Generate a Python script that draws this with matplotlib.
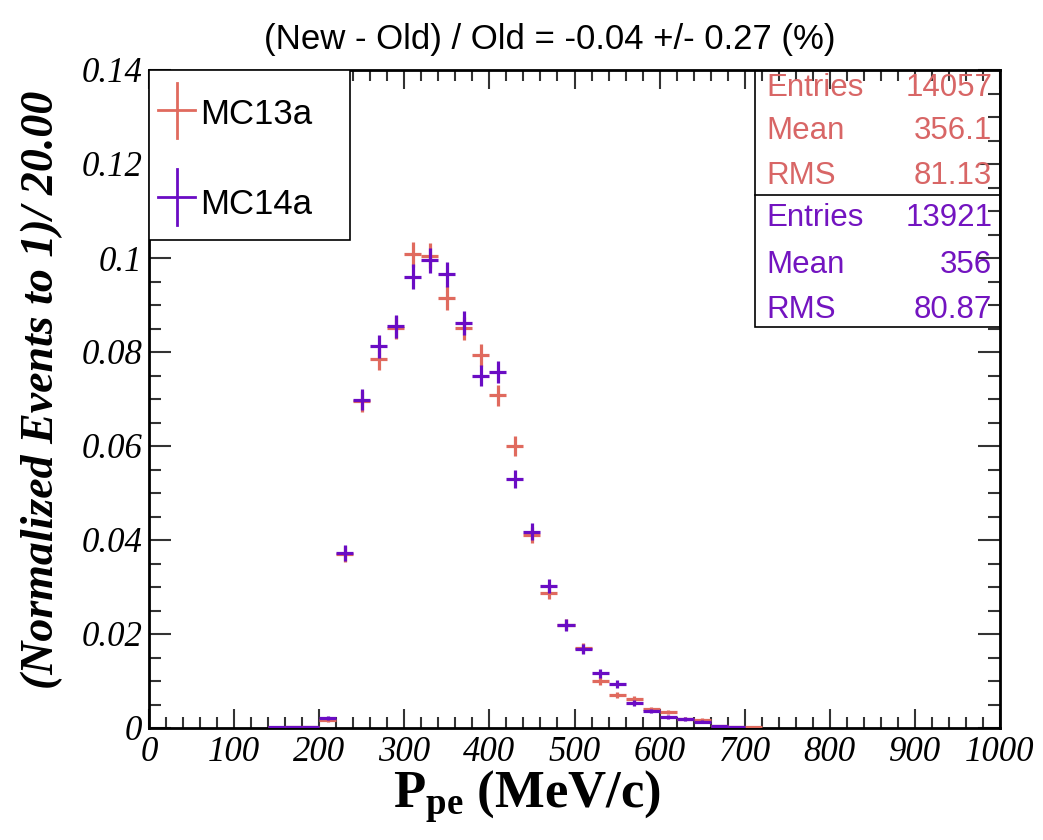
import numpy as np
import matplotlib
matplotlib.use('Agg')
import matplotlib.pyplot as plt
from matplotlib.patches import Rectangle
from matplotlib.ticker import MultipleLocator, FormatStrFormatter

plt.rcParams['mathtext.fontset'] = 'custom'
plt.rcParams['mathtext.rm'] = 'Liberation Serif'
plt.rcParams['mathtext.bf'] = 'Liberation Serif:bold'

# centros de bin (ancho 20 MeV/c)
centros = [150, 170, 190, 210, 230, 250, 270, 290, 310, 330, 350, 370, 390, 410, 430,
           450, 470, 490, 510, 530, 550, 570, 590, 610, 630, 650, 670, 690, 710]
ancho_bin = 20

mc13a = [0.0001, 0.0002, 0.0002, 0.0016, 0.0370, 0.0695, 0.0785, 0.0852, 0.1008, 0.1005,
         0.0915, 0.0850, 0.0793, 0.0708, 0.0600, 0.0410, 0.0288, 0.0220, 0.0170, 0.0100,
         0.0070, 0.0062, 0.0040, 0.0034, 0.0020, 0.0017, 0.0005, 0.0003, 0.0002]
mc14a = [0.0003, 0.0002, 0.0003, 0.0021, 0.0372, 0.0698, 0.0812, 0.0855, 0.0960, 0.0995,
         0.0965, 0.0862, 0.0750, 0.0757, 0.0530, 0.0418, 0.0302, 0.0219, 0.0168, 0.0116,
         0.0093, 0.0053, 0.0036, 0.0023, 0.0019, 0.0013, 0.0004, 0.0003, 0.0000]

entradas = [14057, 13921]
medias = ['356.1', '356']
rms = ['81.13', '80.87']
nombres = ['MC13a', 'MC14a']
colores = ['#e06a5e', '#6a0cc4']
colores_txt = ['#d86666', '#7314c0']

fig = plt.figure(figsize=(10.43, 8.4), dpi=100)
ax = fig.add_axes([149/1043, 1 - 728/840, 851/1043, 658/840])

x = np.array(centros, dtype=float)
for vals, n, c in zip([mc13a, mc14a], entradas, colores):
    v = np.array(vals)
    m = v > 0
    err = np.sqrt(v[m] / n)  # error poissoniano normalizado
    ax.errorbar(x[m], v[m], xerr=ancho_bin / 2, yerr=err, fmt='none',
                ecolor=c, elinewidth=2.3, capsize=0, zorder=3)

ax.set_xlim(0, 1000)
ax.set_ylim(0, 0.14)

ax.xaxis.set_major_locator(MultipleLocator(100))
ax.xaxis.set_minor_locator(MultipleLocator(20))
ax.yaxis.set_major_locator(MultipleLocator(0.02))
ax.yaxis.set_minor_locator(MultipleLocator(0.005))
ax.yaxis.set_major_formatter(FormatStrFormatter('%g'))
ax.xaxis.set_major_formatter(FormatStrFormatter('%g'))

ax.tick_params(which='both', direction='in', top=True, right=True, width=1.5, color='#333333')
ax.tick_params(axis='x', which='major', length=14, pad=6)
ax.tick_params(axis='x', which='minor', length=8)
ax.tick_params(axis='y', which='major', length=16, pad=5)
ax.tick_params(axis='y', which='minor', length=8.5)
for lab in ax.get_xticklabels() + ax.get_yticklabels():
    lab.set_family('Liberation Serif')
    lab.set_style('italic')
    lab.set_fontsize(25)
for s in ax.spines.values():
    s.set_linewidth(2)

fig.text(42/1043, 1 - 390/840, '(Normalized Events to 1)/ 20.00', family='Liberation Serif',
         style='italic', weight='bold', fontsize=33, rotation=90, ha='center', va='center')
fig.text(527/1043, 1 - 808/840, r'$\mathbf{P_{pe}}$ (MeV/c)', family='Liberation Serif',
         weight='bold', fontsize=38, ha='center', va='baseline')
fig.text(550/1043, 1 - 40/840, '(New - Old) / Old = -0.04 +/- 0.27 (%)',
         family='Liberation Sans', fontsize=25, ha='center', va='center')

# leyenda
leg = Rectangle((0, 0.742), 0.236, 0.258, transform=ax.transAxes, facecolor='white',
                edgecolor='black', linewidth=1.2, zorder=5)
ax.add_patch(leg)
for yy, yt, nom, c in zip([0.939, 0.807], [0.932, 0.795], nombres, colores):
    ax.plot([0.011, 0.054], [yy, yy], color=c, lw=2, transform=ax.transAxes, zorder=6)
    ax.plot([0.0325, 0.0325], [yy - 0.042, yy + 0.042], color=c, lw=2,
            transform=ax.transAxes, zorder=6)
    ax.text(0.060, yt, nom, transform=ax.transAxes, family='Liberation Sans',
            fontsize=25, va='center', ha='left', zorder=6)

# cajas de estadisticas
ax.add_patch(Rectangle((0.712, 0.6094), 0.288, 0.3906, transform=ax.transAxes,
                       facecolor='white', edgecolor='black', linewidth=1.2, zorder=1))
ax.plot([0.712, 1.0], [0.810, 0.810], color='black', lw=1.2, transform=ax.transAxes, zorder=1)
filas = [[0.9726, 0.9073, 0.8389], [0.7751, 0.7036, 0.6353]]
for i in range(2):
    textos = [('Entries', str(entradas[i])), ('Mean', medias[i]), ('RMS', rms[i])]
    for yy, (a, b) in zip(filas[i], textos):
        ax.text(0.726, yy, a, transform=ax.transAxes, color=colores_txt[i],
                family='Liberation Sans', fontsize=22.5, va='center', ha='left', zorder=2)
        ax.text(0.991, yy, b, transform=ax.transAxes, color=colores_txt[i],
                family='Liberation Sans', fontsize=22.5, va='center', ha='right', zorder=2)

fig.savefig('out.png', dpi=100)
